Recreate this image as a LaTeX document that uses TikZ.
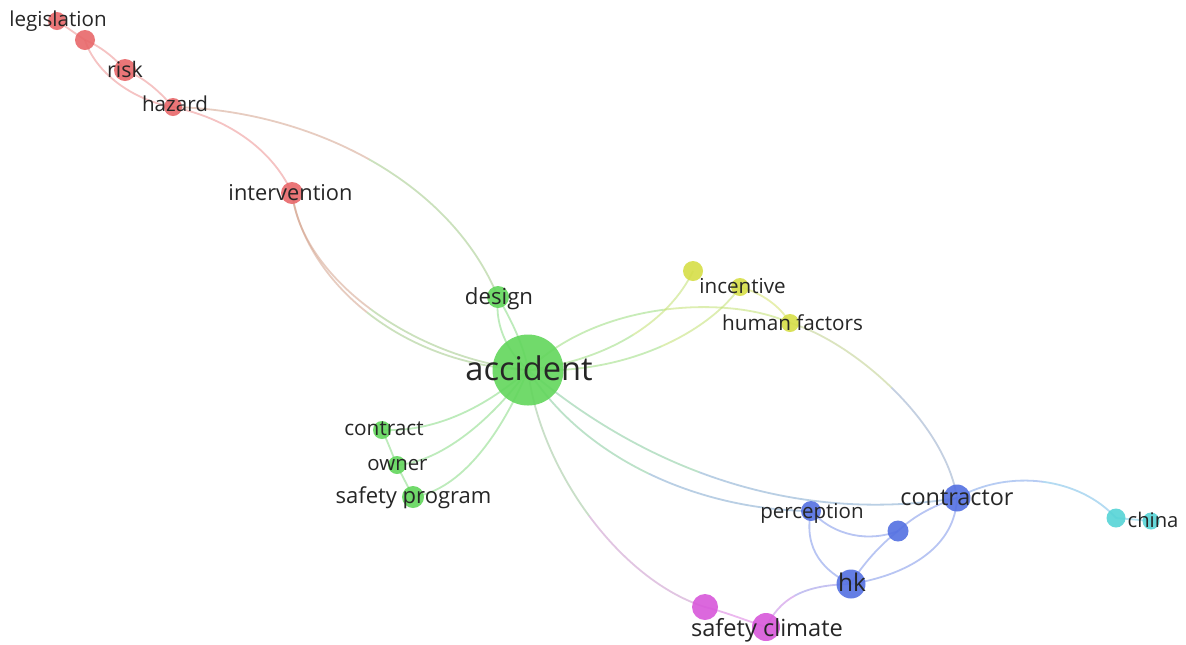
\documentclass[tikz,border=0pt]{standalone}
\usepackage{fontspec}
\setmainfont{Open Sans}
\usetikzlibrary{calc,backgrounds}

% cluster colours: circles
\definecolor{cRed}{RGB}{232,104,106}
\definecolor{cGreen}{RGB}{98,214,92}
\definecolor{cYellow}{RGB}{214,222,72}
\definecolor{cBlue}{RGB}{84,112,226}
\definecolor{cCyan}{RGB}{86,212,214}
\definecolor{cMag}{RGB}{216,88,218}
% cluster colours: links
\definecolor{eRed}{RGB}{236,140,140}
\definecolor{eGreen}{RGB}{130,218,125}
\definecolor{eYellow}{RGB}{210,225,100}
\definecolor{eBlue}{RGB}{120,145,232}
\definecolor{eCyan}{RGB}{110,200,230}
\definecolor{eMag}{RGB}{220,120,225}
\definecolor{txt}{RGB}{38,38,38}

\newcommand\lblsize[1]{\fontsize{#1}{#1}\selectfont}

% link whose colour changes half-way from one cluster to the other:
% the cubic curve is split at t = 1/2 (de Casteljau)
\newcommand\gradlink[6]{%
  \coordinate (q0) at (#3.center);
  \coordinate (q1) at (#4);
  \coordinate (q2) at (#5);
  \coordinate (q3) at (#6.center);
  \coordinate (qa) at ($(q0)!.5!(q1)$);
  \coordinate (qb) at ($(q1)!.5!(q2)$);
  \coordinate (qc) at ($(q2)!.5!(q3)$);
  \coordinate (qab) at ($(qa)!.5!(qb)$);
  \coordinate (qbc) at ($(qb)!.5!(qc)$);
  \coordinate (qm) at ($(qab)!.5!(qbc)$);
  \draw[lnk,#1!75!#2] (q0) .. controls (qa) and (qab) .. (qm);
  \draw[lnk,#2!75!#1] (qm) .. controls (qbc) and (qc) .. (q3);
}

\tikzset{
  dot/.style 2 args={circle, inner sep=0pt, draw=none, fill=#1, fill opacity=0.9, minimum size=#2},
  lnk/.style={line width=0.9pt, draw opacity=0.52},
  lbl/.style={anchor=base, inner sep=0pt, text=txt},
}

\begin{document}
\begin{tikzpicture}[x=0.5pt,y=-0.5pt]
\useasboundingbox (0,0) rectangle (1186,644);

% ---- keyword circles ----
% red cluster
\node[dot={cRed}{9pt}]  (leg)   at (57,21)  {};
\node[dot={cRed}{10pt}] (rzero) at (85,40)  {};
\node[dot={cRed}{11pt}] (risk)  at (125,70) {};
\node[dot={cRed}{9pt}]  (haz)   at (173,107) {};
\node[dot={cRed}{11pt}] (inter) at (292,193) {};
% green cluster
\node[dot={cGreen}{11pt}] (design) at (498,297) {};
\node[dot={cGreen}{35.5pt}] (acc)  at (528,370) {};
\node[dot={cGreen}{9pt}]  (contr)  at (382,430) {};
\node[dot={cGreen}{9pt}]  (owner)  at (397,465) {};
\node[dot={cGreen}{11pt}] (sprog)  at (413,497) {};
% yellow cluster
\node[dot={cYellow}{10pt}] (yzero)  at (693,271) {};
\node[dot={cYellow}{9pt}]  (incent) at (740,287) {};
\node[dot={cYellow}{9pt}]  (hf)     at (790,323) {};
% blue cluster
\node[dot={cBlue}{10pt}]   (percep)     at (811,511) {};
\node[dot={cBlue}{10.5pt}] (bzero)      at (898,531) {};
\node[dot={cBlue}{13.5pt}] (contractor) at (957,498) {};
\node[dot={cBlue}{14.5pt}] (hk)         at (851,584) {};
% cyan cluster
\node[dot={cCyan}{9.5pt}] (czero) at (1116,518) {};
\node[dot={cCyan}{8.5pt}] (china) at (1151,521) {};
% magenta cluster
\node[dot={cMag}{13pt}] (mzero) at (705,607) {};
\node[dot={cMag}{14pt}] (sclim) at (766,627) {};

% ---- links, under the circles ----
\begin{pgfonlayer}{background}
  \fill[white] (0,0) rectangle (1186,644);
  % red cluster
  \draw[lnk,eRed] (leg.center) .. controls (68,28) and (76,34) .. (rzero.center);
  \draw[lnk,eRed] (rzero.center) .. controls (100,46) and (115,58) .. (risk.center);
  \draw[lnk,eRed] (rzero.center) .. controls (95,72) and (132,100) .. (haz.center);
  \draw[lnk,eRed] (risk.center) .. controls (145,78) and (160,92) .. (haz.center);
  \draw[lnk,eRed] (haz.center) .. controls (235,120) and (275,155) .. (inter.center);
  % red to green
  \gradlink{eRed}{eGreen}{haz}{310,110}{450,180}{design}
  \gradlink{eRed}{eGreen}{inter}{305,280}{400,365}{acc}
  \gradlink{eRed}{eGreen}{inter}{302,278}{412,358}{acc}
  % green cluster
  \draw[lnk,eGreen] (design.center) .. controls (494,330) and (512,356) .. (acc.center);
  \draw[lnk,eGreen] (design.center) .. controls (510,318) and (524,345) .. (acc.center);
  \draw[lnk,eGreen] (acc.center) .. controls (480,412) and (430,432) .. (contr.center);
  \draw[lnk,eGreen] (acc.center) .. controls (490,422) and (440,462) .. (owner.center);
  \draw[lnk,eGreen] (acc.center) .. controls (502,432) and (462,490) .. (sprog.center);
  \draw[lnk,eGreen] (contr.center) .. controls (388,442) and (392,454) .. (owner.center);
  \draw[lnk,eGreen] (owner.center) .. controls (402,476) and (408,486) .. (sprog.center);
  % green to yellow
  \gradlink{eGreen}{eYellow}{acc}{600,300}{730,295}{hf}
  \gradlink{eGreen}{eYellow}{acc}{610,360}{670,320}{yzero}
  \gradlink{eGreen}{eYellow}{acc}{630,375}{710,330}{incent}
  % yellow cluster
  \draw[lnk,eYellow] (incent.center) .. controls (762,293) and (780,306) .. (hf.center);
  % yellow to blue
  \gradlink{eYellow}{eBlue}{hf}{850,340}{945,420}{contractor}
  % green to blue
  \gradlink{eGreen}{eBlue}{acc}{585,460}{700,510}{percep}
  \gradlink{eGreen}{eBlue}{acc}{610,440}{760,530}{contractor}
  % green to magenta
  \gradlink{eGreen}{eMag}{acc}{540,470}{620,580}{mzero}
  % blue cluster
  \draw[lnk,eBlue] (percep.center) .. controls (835,537) and (870,542) .. (bzero.center);
  \draw[lnk,eBlue] (percep.center) .. controls (803,550) and (825,572) .. (hk.center);
  \draw[lnk,eBlue] (bzero.center) .. controls (880,545) and (862,565) .. (hk.center);
  \draw[lnk,eBlue] (bzero.center) .. controls (915,515) and (935,505) .. (contractor.center);
  \draw[lnk,eBlue] (hk.center) .. controls (912,574) and (955,545) .. (contractor.center);
  % blue to magenta
  \gradlink{eBlue}{eMag}{hk}{800,585}{780,600}{sclim}
  % magenta cluster
  \draw[lnk,eMag] (mzero.center) .. controls (725,612) and (745,620) .. (sclim.center);
  % blue to cyan
  \gradlink{eBlue}{eCyan}{contractor}{1010,468}{1080,478}{czero}
  % cyan cluster
  \draw[lnk,eCyan] (czero.center) .. controls (1128,519) and (1140,520) .. (china.center);
\end{pgfonlayer}

% ---- labels ----
\node[lbl,font=\lblsize{10.3}]  (leg-t)        at (58,26)    {legislation};
\node[lbl,font=\lblsize{10.7}]  (risk-t)       at (125,77)   {risk};
\node[lbl,font=\lblsize{10.3}]  (haz-t)        at (175,111)  {hazard};
\node[lbl,font=\lblsize{10.9}]  (inter-t)      at (290.5,200) {intervention};
\node[lbl,font=\lblsize{11.1}]  (design-t)     at (499,304)  {design};
\node[lbl,font=\lblsize{16.3}]  (acc-t)        at (529,380)  {accident};
\node[lbl,font=\lblsize{10.4}]  (contr-t)      at (384,435)  {contract};
\node[lbl,font=\lblsize{10.2}]  (owner-t)      at (397.5,470) {owner};
\node[lbl,font=\lblsize{11}]    (sprog-t)      at (413.5,503) {safety program};
\node[lbl,font=\lblsize{10.3}]  (incent-t)     at (742.5,293) {incentive};
\node[lbl,font=\lblsize{10.35}] (hf-t)         at (792.5,330) {human factors};
\node[lbl,font=\lblsize{10.25}] (percep-t)     at (812,518)  {perception};
\node[lbl,font=\lblsize{11.7}]  (contractor-t) at (957,505)  {contractor};
\node[lbl,font=\lblsize{12.2}]  (hk-t)         at (852,591)  {hk};
\node[lbl,font=\lblsize{10.1}]  (china-t)      at (1153,527) {china};
\node[lbl,font=\lblsize{11.8}]  (sclim-t)      at (767,636)  {safety climate};
\end{tikzpicture}
\end{document}
